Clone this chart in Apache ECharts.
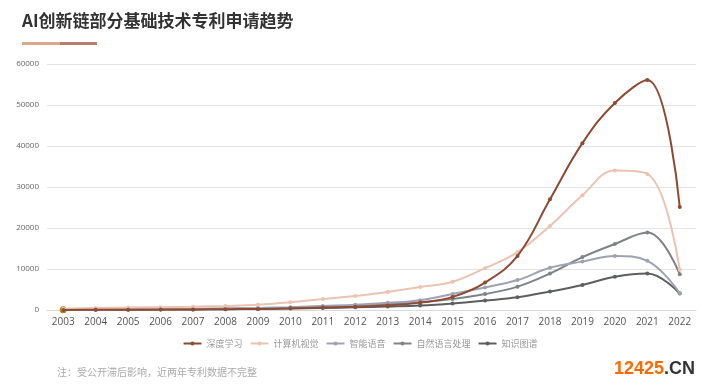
<!DOCTYPE html>
<html>
<head>
<meta charset="utf-8">
<script src="https://cdn.jsdelivr.net/npm/echarts@6/dist/echarts.min.js"></script>
<style>html,body{margin:0;padding:0;background:#fff}#c{width:720px;height:390px}</style>
</head>
<body>
<div id="c"></div>
<script>
var years = ['2003','2004','2005','2006','2007','2008','2009','2010','2011','2012','2013','2014','2015','2016','2017','2018','2019','2020','2021','2022'];
var deepLearning = [30, 50, 80, 100, 150, 200, 250, 400, 600, 800, 1100, 1800, 3200, 6700, 13200, 27000, 40700, 50500, 56100, 25100];
var computerVision = [300, 500, 600, 700, 800, 1000, 1300, 1900, 2700, 3400, 4400, 5600, 6900, 10200, 14100, 20500, 28000, 34000, 33200, 9800];
var smartSpeech = [100, 150, 200, 250, 300, 400, 500, 700, 1000, 1300, 1750, 2400, 3900, 5500, 7300, 10300, 11800, 13200, 12000, 4100];
var nlp = [80, 120, 150, 200, 250, 300, 400, 550, 800, 1050, 1400, 1900, 2700, 3900, 5700, 8900, 12900, 16100, 18900, 8700];
var knowledgeGraph = [50, 80, 100, 120, 150, 200, 250, 350, 500, 650, 850, 1100, 1600, 2300, 3100, 4500, 6100, 8100, 8900, 4000];
var seriesNames = ['深度学习', '计算机视觉', '智能语音', '自然语言处理', '知识图谱'];
var yTicks = [0, 10000, 20000, 30000, 40000, 50000, 60000];

var colors = ['#8e4b33', '#ebc3b1', '#a0a2b3', '#7f8288', '#5c5e5f'];
var allData = [deepLearning, computerVision, smartSpeech, nlp, knowledgeGraph];

var chart = echarts.init(document.getElementById('c'));
var series = allData.map(function (d, i) {
  var data = d.map(function (v, j) {
    if (i === 4 && j === 0) return { value: v, itemStyle: { color: '#b8860b' }, symbolSize: 7 };
    return v;
  });
  return {
    name: seriesNames[i],
    type: 'line',
    smooth: 0.4,
    data: data,
    symbol: 'circle',
    symbolSize: 4,
    lineStyle: { width: 2, color: colors[i] },
    itemStyle: { color: colors[i] },
    z: 10 - i
  };
});

chart.setOption({
  animation: false,
  color: colors,
  title: {
    text: 'AI创新链部分基础技术专利申请趋势',
    left: 17, top: 7,
    textStyle: { fontSize: 17, fontWeight: 'bold', color: '#333', fontFamily: 'Noto Sans CJK SC' }
  },
  graphic: [
    { type: 'rect', shape: { x: 22, y: 42, width: 38, height: 3 }, style: { fill: '#dca58e' } },
    { type: 'rect', shape: { x: 60, y: 42, width: 37, height: 3 }, style: { fill: '#b97c6e' } },
    { type: 'text', left: 57, top: 367, style: { text: '注：受公开滞后影响，近两年专利数据不完整', fill: '#aaa', fontSize: 10, fontFamily: 'Noto Sans CJK SC' } },
    { type: 'text', left: 614, top: 360, style: {
        text: '{a|12425}{b|.CN}',
        rich: {
          a: { fill: '#ff6a00', fontSize: 18, fontWeight: 'bold', fontFamily: 'Liberation Sans' },
          b: { fill: '#333', fontSize: 18, fontWeight: 'bold', fontFamily: 'Liberation Sans' }
        } } }
  ],
  legend: {
    data: seriesNames,
    top: 334,
    left: 'center',
    itemWidth: 18,
    itemHeight: 5,
    itemGap: 7,
    textStyle: { fontSize: 9, color: '#999', fontFamily: 'Noto Sans CJK SC' }
  },
  grid: { left: 47, right: 24, top: 64, bottom: 80, containLabel: false },
  xAxis: {
    type: 'category',
    data: years,
    boundaryGap: true,
    axisLine: { lineStyle: { color: '#d9d9d9' } },
    axisTick: { show: false },
    axisLabel: { color: '#555', fontSize: 10, margin: 7, fontFamily: 'Open Sans' }
  },
  yAxis: {
    type: 'value',
    min: yTicks[0], max: yTicks[yTicks.length - 1], interval: 10000,
    axisLine: { show: false },
    axisTick: { show: false },
    splitLine: { lineStyle: { color: '#e3e3e3' } },
    axisLabel: { color: '#666', fontSize: 8, margin: 8, fontFamily: 'Open Sans', formatter: function (v) { return String(v); } }
  },
  series: series
});
</script>
</body>
</html>
